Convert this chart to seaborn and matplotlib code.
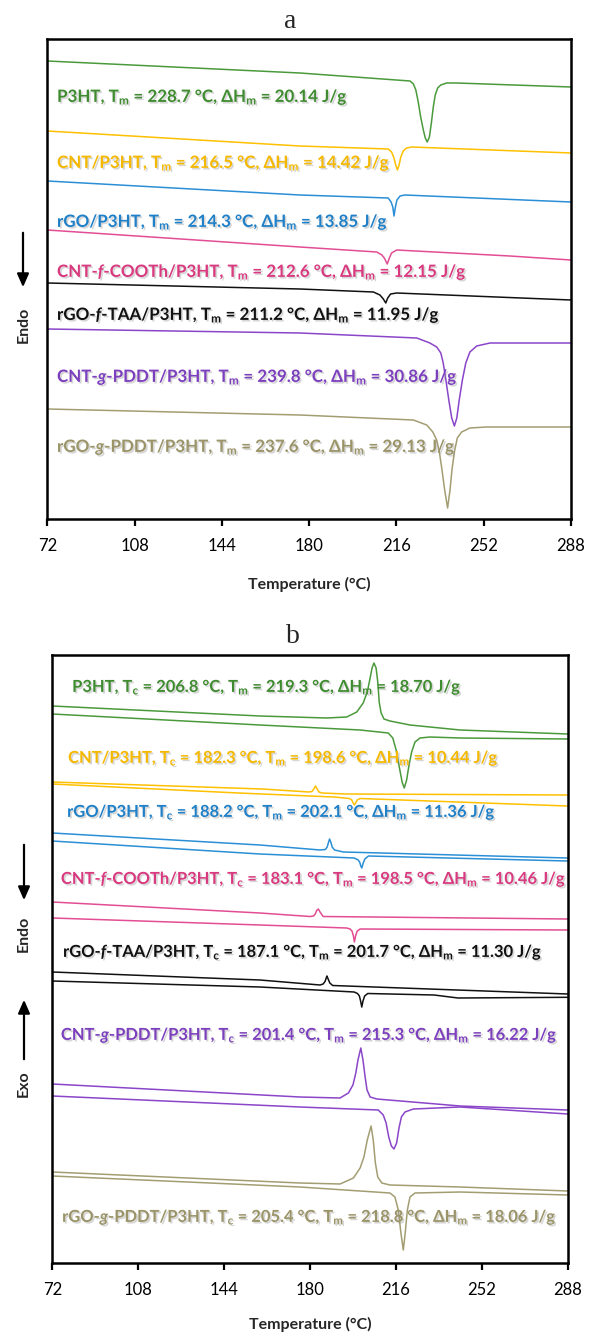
import matplotlib
matplotlib.use("Agg")
import matplotlib.pyplot as plt
import matplotlib.patheffects as pe
import pandas as pd
import seaborn as sns

# ---------------- data ----------------
samples = ["P3HT", "CNT/P3HT", "rGO/P3HT", "CNT-f-COOTh/P3HT",
           "rGO-f-TAA/P3HT", "CNT-g-PDDT/P3HT", "rGO-g-PDDT/P3HT"]
sample_tex = ["P3HT", "CNT/P3HT", "rGO/P3HT", r"CNT-$\mathit{f}$-COOTh/P3HT",
              r"rGO-$\mathit{f}$-TAA/P3HT", r"CNT-$\mathit{g}$-PDDT/P3HT",
              r"rGO-$\mathit{g}$-PDDT/P3HT"]
line_colors = ["#4a9a3c", "#ffc000", "#2a8fd6", "#e24d93", "#111111", "#8a45c9", "#a39d72"]
text_colors = ["#3f8c30", "#f5b800", "#1f80c8", "#d9397f", "#111111", "#7c3fbd", "#9a9468"]

a_Tm = [228.7, 216.5, 214.3, 212.6, 211.2, 239.8, 237.6]
a_dHm = [20.14, 14.42, 13.85, 12.15, 11.95, 30.86, 29.13]
b_Tc = [206.8, 182.3, 188.2, 183.1, 187.1, 201.4, 205.4]
b_Tm = [219.3, 198.6, 202.1, 198.5, 201.7, 215.3, 218.8]
b_dHm = [18.70, 10.44, 11.36, 10.46, 11.30, 16.22, 18.06]

x_ticks = [72, 108, 144, 180, 216, 252, 288]

# panel a heating traces (temperature in °C, heat flow in a.u.)
a_T_0 = [72, 176.2, 221.6, 223.0, 224.0, 225.0, 226.0, 227.1, 227.9, 228.7, 229.6, 230.4, 231.2, 232.0, 233.0, 234.3, 236.7, 240.9, 288]
a_H_0 = [458, 446, 438, 435, 429, 417, 402, 389, 381, 377, 382, 396, 412, 424, 431, 434, 436, 436, 432]
a_T_1 = [72, 176.2, 212.6, 214.0, 215.0, 215.7, 216.4, 217.1, 217.8, 218.8, 220.2, 222.3, 288]
a_H_1 = [388, 373, 370, 367, 361, 354, 349, 354, 362, 368, 371, 372, 366]
a_T_2 = [72, 176.2, 212.6, 213.8, 214.5, 215.0, 215.5, 216.2, 217.5, 219.5, 288]
a_H_2 = [338, 324, 321, 317, 312, 303, 311, 319, 323, 324, 317]
a_T_3 = [72, 176.2, 207.9, 210.0, 211.0, 212.2, 213.1, 214.0, 216.1, 262.8, 288]
a_H_3 = [289, 272, 267, 264, 261, 255, 261, 266, 269, 263, 259]
a_T_4 = [72, 176.2, 206.5, 209.2, 210.6, 211.6, 212.4, 213.6, 216.1, 288]
a_H_4 = [236, 230, 227, 224, 220, 216, 221, 225, 226, 219]
a_T_5 = [72, 176.2, 224.4, 229.8, 232.6, 234.3, 235.3, 236.4, 237.6, 238.8, 239.9, 240.9, 241.9, 243.2, 244.6, 246.3, 249.1, 254.6, 288]
a_H_5 = [190, 186, 181, 176, 172, 166, 156, 139, 119, 101, 93, 101, 119, 139, 156, 167, 173, 176, 176]
a_T_6 = [72, 176.2, 223.0, 228.5, 231.0, 232.6, 233.7, 234.8, 235.9, 237.1, 238.1, 238.9, 239.9, 241.1, 242.9, 246.3, 253.2, 288]
a_H_6 = [110, 104, 99, 94, 87, 79, 67, 49, 29, 11, 29, 49, 67, 81, 87, 91, 92, 92]

# panel b cooling (c) and second heating (h) traces
b_T_0c = [72, 159.0, 187.0, 195.4, 199.6, 202.3, 204.0, 205.2, 206.0, 206.8, 207.7, 208.4, 209.0, 209.8, 211.0, 213.5, 221.9, 242.9, 288]
b_H_0c = [557, 547, 545, 546, 551, 560, 571, 585, 595, 600, 595, 581, 561, 550, 544, 542, 538, 533, 529]
b_T_0h = [72, 159.0, 201.0, 212.8, 214.7, 216.1, 217.5, 218.6, 219.5, 220.5, 221.5, 222.6, 224.0, 226.1, 230.3, 242.9, 288]
b_H_0h = [549, 538, 533, 530, 525, 513, 495, 481, 475, 483, 498, 511, 521, 525, 526, 525, 524]
b_T_1c = [72, 160, 179.5, 180.8, 181.6, 182.3, 183.0, 183.8, 185, 195, 288]
b_H_1c = [481, 474, 471, 471.5, 474, 477, 474, 471, 470, 469, 468]
b_T_1h = [72, 150, 190, 196.5, 197.5, 198.1, 198.6, 199.1, 199.8, 201, 230, 288]
b_H_1h = [479, 470, 466, 464.5, 463, 460, 458, 460, 463, 464.5, 462, 457]
b_T_2c = [72, 159, 184.2, 186.4, 187.2, 187.8, 188.2, 188.7, 189.3, 190.3, 194, 288]
b_H_2c = [430, 418, 413, 413.5, 416, 421, 424, 421, 416, 413, 411, 405]
b_T_2h = [72, 159, 198.5, 200.2, 200.8, 201.3, 201.7, 202.3, 203.0, 204.5, 288]
b_H_2h = [422, 409, 405, 403, 401, 397, 395, 400, 404, 407, 402]
b_T_3c = [72, 159, 180, 181.5, 182.2, 182.8, 183.5, 184.2, 185.5, 288]
b_H_3c = [361, 350, 346.5, 347, 349, 352.5, 354, 351, 346.5, 344]
b_T_3h = [72, 159, 195.4, 196.8, 197.6, 198.2, 198.6, 199.1, 199.8, 201, 288]
b_H_3h = [345, 338, 335, 334, 332, 327, 321, 327, 332, 334, 333]
b_T_4c = [72, 159, 184.2, 185.5, 186.3, 186.8, 187.1, 187.6, 188.3, 189.5, 288]
b_H_4c = [291, 283, 278, 279, 281.5, 285, 287, 284, 280, 277.5, 269]
b_T_4h = [72, 159, 198.5, 199.9, 200.7, 201.2, 201.7, 202.2, 202.9, 204.2, 232, 242, 288]
b_H_4h = [282, 276, 271, 269.5, 267, 262, 256, 262, 267, 269.5, 268, 265, 265.7]
b_T_5c = [72, 175.8, 192.6, 196.1, 198.0, 199.2, 200.1, 201.3, 202.2, 203.1, 203.9, 205.2, 208.0, 242.9, 288]
b_H_5c = [179, 166, 165, 170, 178, 190, 203, 215, 203, 186, 173, 166, 164, 157, 153]
b_T_5h = [72, 175.8, 208.6, 210.7, 211.9, 213.0, 214.1, 215.2, 216.3, 217.3, 218.3, 219.8, 223.3, 242.9, 288]
b_H_5h = [167, 156, 153, 148, 140, 126, 117, 114, 120, 135, 146, 151, 154, 156, 149]
b_T_6c = [72, 175.8, 192.6, 198.2, 201.0, 202.6, 204.0, 205.6, 206.5, 207.4, 208.4, 210.1, 213.5, 242.9, 288]
b_H_6c = [91, 80, 79, 85, 95, 106, 123, 137, 123, 100, 86, 80, 78, 76, 72]
b_T_6h = [72, 175.8, 213.5, 215.6, 217.0, 218.1, 219.1, 219.9, 220.8, 221.9, 224.0, 242.9, 288]
b_H_6h = [87, 76, 70, 66, 53, 30, 13, 30, 53, 66, 70, 71, 68]

a_T = [a_T_0, a_T_1, a_T_2, a_T_3, a_T_4, a_T_5, a_T_6]
a_H = [a_H_0, a_H_1, a_H_2, a_H_3, a_H_4, a_H_5, a_H_6]
b_Tc_curves = [b_T_0c, b_T_1c, b_T_2c, b_T_3c, b_T_4c, b_T_5c, b_T_6c]
b_Hc_curves = [b_H_0c, b_H_1c, b_H_2c, b_H_3c, b_H_4c, b_H_5c, b_H_6c]
b_Th_curves = [b_T_0h, b_T_1h, b_T_2h, b_T_3h, b_T_4h, b_T_5h, b_T_6h]
b_Hh_curves = [b_H_0h, b_H_1h, b_H_2h, b_H_3h, b_H_4h, b_H_5h, b_H_6h]

rows_a = []
for s, T, Hf in zip(samples, a_T, a_H):
    for t, h in zip(T, Hf):
        rows_a.append((s, "heat", t, h))
df_a = pd.DataFrame(rows_a, columns=["sample", "scan", "T", "HF"])

rows_b = []
for s, Tc, Hc, Th, Hh in zip(samples, b_Tc_curves, b_Hc_curves, b_Th_curves, b_Hh_curves):
    for t, h in zip(Tc, Hc):
        rows_b.append((s, "cool", t, h))
    for t, h in zip(Th, Hh):
        rows_b.append((s, "heat", t, h))
df_b = pd.DataFrame(rows_b, columns=["sample", "scan", "T", "HF"])

# ---------------- style ----------------
sns.set_style("white")
plt.rcParams["font.family"] = ["Lato", "DejaVu Sans"]
plt.rcParams["mathtext.fontset"] = "custom"
plt.rcParams["mathtext.rm"] = "Lato:bold"
plt.rcParams["mathtext.it"] = "Lato:bold:italic"
plt.rcParams["mathtext.bf"] = "Lato:bold"

W, H = 589, 1334
fig = plt.figure(figsize=(W / 100, H / 100), dpi=100)
palette = dict(zip(samples, line_colors))


def make_ax(left, top, right, bottom):
    return fig.add_axes([left / W, 1 - bottom / H, (right - left) / W, (bottom - top) / H])


ax_a = make_ax(47.3, 39, 571, 519)
ax_b = make_ax(52.3, 655, 567.7, 1263)

sns.lineplot(data=df_a, x="T", y="HF", hue="sample", units="scan", estimator=None,
             sort=False, palette=palette, legend=False, lw=1.1, ax=ax_a)
sns.lineplot(data=df_b, x="T", y="HF", hue="sample", units="scan", estimator=None,
             sort=False, palette=palette, legend=False, lw=1.1, ax=ax_b)

ax_a.set_ylim(0, 480)
ax_b.set_ylim(0, 608)

shadow = [pe.withSimplePatchShadow(offset=(1.2, -1.2), shadow_rgbFace=(0.55, 0.55, 0.55), alpha=0.35)]

for ax, lp in ((ax_a, 16), (ax_b, 13)):
    ax.set_xlim(72, 288)
    ax.set_xticks(x_ticks)
    ax.set_xticklabels([str(v) for v in x_ticks])
    ax.set_yticks([])
    for sp in ax.spines.values():
        sp.set_visible(True)
        sp.set_color("black")
        sp.set_linewidth(1.8)
    ax.tick_params(axis="x", direction="out", length=5, width=1.6, pad=9,
                   labelsize=12, colors="black", bottom=True)
    ax.set_ylabel("")
    ax.set_xlabel("Temperature (°C)", fontsize=11.5, fontweight="bold", labelpad=lp)

# panel a labels
a_lab_y = [422, 356, 297, 247, 204, 142, 72]
for i in range(7):
    txt = (sample_tex[i] + r", T$_\mathrm{m}$ = " + f"{a_Tm[i]:.1f} °C, ΔH" +
           r"$_\mathrm{m}$ = " + f"{a_dHm[i]:.2f} J/g")
    ax_a.text(76, a_lab_y[i], txt, color=text_colors[i], fontsize=12.2,
              fontweight="bold", va="center", ha="left", path_effects=shadow)

# panel b labels
b_lab_x = [80.3, 78.6, 78.2, 75.6, 76.5, 75.6, 76.1]
b_lab_y = [576, 505, 451, 384, 311, 228, 46]
for i in range(7):
    txt = (sample_tex[i] + r", T$_\mathrm{c}$ = " + f"{b_Tc[i]:.1f} °C, T" +
           r"$_\mathrm{m}$ = " + f"{b_Tm[i]:.1f} °C, ΔH" + r"$_\mathrm{m}$ = " +
           f"{b_dHm[i]:.2f} J/g")
    ax_b.text(b_lab_x[i], b_lab_y[i], txt, color=text_colors[i], fontsize=11.9,
              fontweight="bold", va="center", ha="left", path_effects=shadow)

# titles
fig.text(290 / W, 1 - 27.5 / H, "a", fontsize=20, family="Liberation Serif", ha="center", va="baseline")
fig.text(293 / W, 1 - 643 / H, "b", fontsize=20, family="Liberation Serif", ha="center", va="baseline")


def arrow(x, y0, y1):
    fig.add_artist(matplotlib.patches.FancyArrowPatch(
        (x / W, 1 - y0 / H), (x / W, 1 - y1 / H), transform=fig.transFigure,
        arrowstyle="-|>,head_length=0.5,head_width=0.22", mutation_scale=16,
        color="black", lw=1.6))


def side(x, y, s):
    fig.text(x / W, 1 - y / H, s, rotation=90, fontsize=11.5, fontweight="bold",
             ha="center", va="center")


arrow(23, 230, 290)
side(24, 325, "Endo")
arrow(24, 842, 903)
side(24, 934, "Endo")
arrow(24, 1062, 997)
side(24, 1084, "Exo")

fig.savefig("out.png", dpi=100)
